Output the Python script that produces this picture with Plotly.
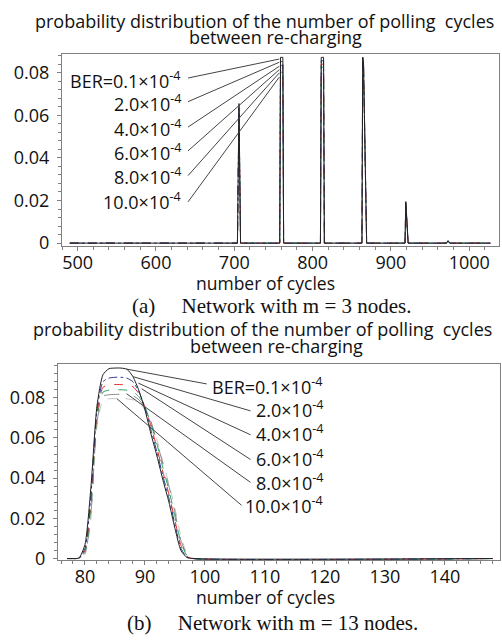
import plotly.graph_objects as go

W, H = 502, 643

# ---- (a) network with m = 3 nodes
cycles_a = [490, 704, 706, 708, 758, 759, 762, 763, 810, 811, 814, 815,
            863, 864, 865, 869, 918, 919, 922, 971, 973, 975, 1027]


def spikes(p705, p760, p812, p865, p919, p973):
    return [0, 0, p705, 0, 0, p760, p760, 0, 0, p812, p812, 0,
            0, p865, p865 * 0.97, 0, 0, p919, 0, 0, p973, 0, 0]


ber_a = [
    spikes(0.0655, 0.0872, 0.0872, 0.0873, 0.0195, 0.0012),
    spikes(0.0640, 0.0852, 0.0856, 0.0870, 0.0190, 0.0011),
    spikes(0.0625, 0.0834, 0.0840, 0.0868, 0.0186, 0.0011),
    spikes(0.0610, 0.0818, 0.0826, 0.0865, 0.0182, 0.0010),
    spikes(0.0595, 0.0802, 0.0810, 0.0862, 0.0178, 0.0010),
    spikes(0.0580, 0.0782, 0.0795, 0.0860, 0.0174, 0.0010),
]

# ---- (b) network with m = 13 nodes
cycles_b = [77, 78, 79, 80, 81, 82, 83, 84, 85, 86, 87, 88, 89, 90, 91, 92,
            93, 94, 95, 96, 97, 98, 148]
ber_01 = [0, 0, 0.0003, 0.007, 0.036, 0.076, 0.0915, 0.0945, 0.0948, 0.0948,
          0.0942, 0.0905, 0.0835, 0.074, 0.062, 0.051, 0.039, 0.028, 0.015,
          0.004, 0.0005, 0, 0]
ber_2 = [0, 0, 0.0002, 0.005, 0.032, 0.074, 0.088, 0.0898, 0.0902, 0.0902,
         0.0898, 0.088, 0.083, 0.075, 0.064, 0.053, 0.041, 0.030, 0.017,
         0.005, 0.0008, 0, 0]
ber_4 = [0, 0, 0.0001, 0.004, 0.029, 0.072, 0.0852, 0.0864, 0.0866, 0.0866,
         0.0864, 0.0855, 0.082, 0.0755, 0.066, 0.055, 0.043, 0.032, 0.019,
         0.0065, 0.001, 0, 0]
ber_6 = [0, 0, 0.0001, 0.003, 0.026, 0.070, 0.0828, 0.0838, 0.084, 0.084,
         0.0838, 0.083, 0.0805, 0.0755, 0.067, 0.057, 0.045, 0.034, 0.021,
         0.008, 0.0015, 0, 0]
ber_8 = [0, 0, 0.0001, 0.0025, 0.023, 0.068, 0.0808, 0.0815, 0.0817, 0.0817,
         0.0815, 0.081, 0.079, 0.075, 0.068, 0.058, 0.047, 0.036, 0.023,
         0.009, 0.002, 0.0001, 0]
ber_10 = [0, 0, 0, 0.002, 0.020, 0.066, 0.0788, 0.0795, 0.0796, 0.0796,
          0.0795, 0.079, 0.0775, 0.074, 0.068, 0.059, 0.048, 0.037, 0.025,
          0.011, 0.0025, 0.0002, 0]
ber_b = [ber_01, ber_2, ber_4, ber_6, ber_8, ber_10]

labels = ["BER=0.1×10<sup>-4</sup>", "2.0×10<sup>-4</sup>", "4.0×10<sup>-4</sup>",
          "6.0×10<sup>-4</sup>", "8.0×10<sup>-4</sup>", "10.0×10<sup>-4</sup>"]
colors = ["#222222", "#2b3a8f", "#e0302a", "#2aa05a", "#8a8a8a", "#c2c2c2"]
dashes = ["solid", "dashdot", "dash", "dash", "longdash", "dash"]

# label anchors / leader lines (data coords)
lab_a_y = [0.0764, 0.0656, 0.054, 0.043, 0.0313, 0.0199]
lead_a_start = [0.0775, 0.0664, 0.0545, 0.0433, 0.0317, 0.0194]
lead_a_end = [0.0864, 0.0849, 0.083, 0.0814, 0.0799, 0.0779]
lab_b_y = [0.086, 0.0742, 0.0624, 0.0502, 0.0379, 0.0266]
lead_b_curve = [(86.9, 0.0943), (88.05, 0.0905), (88.9, 0.0873),
                (89.45, 0.0845), (86.95, 0.082), (85.3, 0.0796)]
lead_b_label = [(100.3, 0.0869), (107.6, 0.0735), (107.6, 0.0616),
                (107.6, 0.0493), (107.6, 0.0379), (106.1, 0.0265)]

SANS = "Open Sans"
SERIF = "Liberation Serif"
FS = 18

fig = go.Figure()
# black drawn last so it sits on top
for i in [5, 4, 3, 2, 1, 0]:
    fig.add_trace(go.Scatter(x=cycles_a, y=ber_a[i], mode="lines",
                             line=dict(color=colors[i], width=1, dash=dashes[i]),
                             xaxis="x", yaxis="y"))
for i in [5, 4, 3, 2, 1, 0]:
    fig.add_trace(go.Scatter(x=cycles_b, y=ber_b[i], mode="lines",
                             line=dict(color=colors[i], width=1, dash=dashes[i],
                                       shape="spline", smoothing=0.6),
                             xaxis="x2", yaxis="y2"))


def px_y(p):
    return 1 - p / H


axis_style = dict(showline=True, linecolor="#808080", linewidth=1, mirror=True,
                  ticks="outside", ticklen=4, tickcolor="#808080", showgrid=False,
                  zeroline=False, tickfont=dict(family=SANS, size=FS, color="#111"))
xminor = dict(ticks="outside", ticklen=3, tickcolor="#808080")

fig.update_layout(
    width=W, height=H, margin=dict(l=0, r=0, t=0, b=0),
    paper_bgcolor="white", plot_bgcolor="white", showlegend=False,
    xaxis=dict(domain=[62 / W, 499 / W], range=[480, 1038], dtick=100, anchor="y",
               minor=dict(dtick=20, **xminor), ticklabelstandoff=-4, **axis_style),
    yaxis=dict(domain=[px_y(250), px_y(55)], range=[-0.0014, 0.0887], dtick=0.02,
               anchor="x", minor=dict(dtick=0.004, **xminor), ticklabelstandoff=4,
               **axis_style),
    xaxis2=dict(domain=[58 / W, 500 / W], range=[75.5, 149.2], dtick=10, anchor="y2",
                minor=dict(dtick=2, **xminor), ticklabelstandoff=-4, **axis_style),
    yaxis2=dict(domain=[px_y(569), px_y(370)], range=[-0.0008, 0.0967], dtick=0.02,
                anchor="x2", minor=dict(dtick=0.004, **xminor), ticklabelstandoff=4,
                **axis_style),
)

ann = []
shapes = []
for i in range(6):
    ann.append(dict(x=634.3, y=lab_a_y[i], xref="x", yref="y", text=labels[i],
                    showarrow=False, xanchor="right", yanchor="middle",
                    font=dict(family=SANS, size=FS, color="#111")))
    shapes.append(dict(type="line", xref="x", yref="y", x0=641, y0=lead_a_start[i],
                       x1=757.4, y1=lead_a_end[i], line=dict(color="#444", width=1)))
    ann.append(dict(x=120, y=lab_b_y[i], xref="x2", yref="y2", text=labels[i],
                    showarrow=False, xanchor="right", yanchor="middle",
                    font=dict(family=SANS, size=FS, color="#111")))
    shapes.append(dict(type="line", xref="x2", yref="y2",
                       x0=lead_b_curve[i][0], y0=lead_b_curve[i][1],
                       x1=lead_b_label[i][0], y1=lead_b_label[i][1],
                       line=dict(color="#444", width=1)))


def text_at(txt, cx, cy, family, size):
    ann.append(dict(x=cx / W, y=px_y(cy), xref="paper", yref="paper", text=txt,
                    showarrow=False, xanchor="center", yanchor="middle",
                    font=dict(family=family, size=size, color="#111")))


title1 = "probability distribution of the number of polling\u00a0 cycles"
title2 = "between re-charging"
text_at(title1, 264, 21, SANS, FS)
text_at(title2, 275, 38, SANS, FS)
text_at("number of cycles", 265, 287, SANS, 17.5)
text_at("(a)\u00a0\u00a0\u00a0\u00a0 Network with m = 3 nodes.", 272, 311, SERIF, 21)
text_at(title1, 262, 334, SANS, FS)
text_at(title2, 276, 351, SANS, FS)
text_at("number of cycles", 265, 606, SANS, 17.5)
text_at("(b)\u00a0\u00a0\u00a0\u00a0 Network with m = 13 nodes.", 272, 633, SERIF, 21)

fig.update_layout(annotations=ann, shapes=shapes)
# the page body keeps its default 8px margin otherwise, which pushes the figure off the window
fig.write_html("out.html", config={"displayModeBar": False},
               post_script="document.body.style.margin='0';document.body.style.overflow='hidden';")
